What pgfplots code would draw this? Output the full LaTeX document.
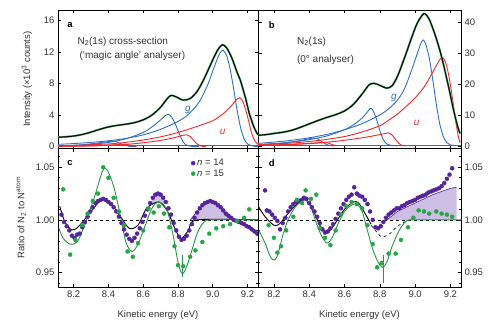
\documentclass[border=0pt]{standalone}
\usepackage{fontspec}
\setmainfont{Liberation Sans}
\usepackage{pgfplots}
\pgfplotsset{compat=1.18}
\definecolor{cblue}{RGB}{45,110,200}
\definecolor{cred}{RGB}{240,40,45}
\definecolor{cgreen}{RGB}{40,150,70}
\definecolor{tgreen}{RGB}{80,170,100}
\definecolor{cpurple}{RGB}{85,35,155}
\definecolor{clav}{RGB}{205,190,228}
\definecolor{dgreen}{RGB}{40,165,70}
\tikzset{ann/.style={font=\fontsize{10}{12}\selectfont, text=black!80}}
\pgfplotsset{
  panel/.style={
    scale only axis, xmin=8.11, xmax=9.26,
    xtick={8.2,8.4,8.6,8.8,9.0,9.2},
    tick align=inside,
    major tick length=3.5pt, minor tick length=2pt,
    every tick/.style={black, line width=0.6pt},
    axis line style={line width=0.8pt},
    tick label style={font=\fontsize{9.5}{11}\selectfont, text=black!80},
    label style={font=\fontsize{9.5}{11}\selectfont, text=black!80},
    /pgf/number format/assume math mode=true,
    xticklabel style={/pgf/number format/.cd, fixed, fixed zerofill, precision=1},
    clip=true,
  },
  ratio/.style={
    ymin=0.936, ymax=1.068,
    ytick={0.95,1.00,1.05},
    minor ytick={0.94,0.96,0.97,0.98,0.99,1.01,1.02,1.03,1.04,1.06},
    yticklabel style={/pgf/number format/.cd, fixed, fixed zerofill, precision=2},
    xlabel={Kinetic energy (eV)},
    xlabel style={at={(axis description cs:0.5,-0.2)}, anchor=center},
  },
  totg/.style={tgreen, line width=2.0pt, smooth},
  totk/.style={black, line width=1.0pt, smooth},
  bl/.style={cblue, line width=0.9pt, smooth},
  rd/.style={cred, line width=0.9pt, smooth},
  pdot/.style={only marks, mark=*, mark size=2pt, mark options={draw=cpurple, fill=cpurple}},
  gdot/.style={only marks, mark=*, mark size=2pt, mark options={draw=dgreen, fill=dgreen}},
}
\begin{document}
\begin{tikzpicture}[x=1pt,y=1pt]
\path[use as bounding box] (0,0) rectangle (493,324);

% ---------------- panel a ----------------
\begin{axis}[panel, at={(58pt,175.7pt)}, anchor=south west, width=200pt, height=138.3pt,
  ymin=-0.2, ymax=17.3, ytick={0,4,8,12,16}, xticklabels={},
  ylabel={Intensity (×10\textsuperscript{3} counts)},
  ylabel style={at={(axis description cs:-0.155,0.5)}, anchor=center}]
\addplot[cred, line width=1.2pt] coordinates {(8.11,0.13)(9.26,0.13)};
\addplot[bl] coordinates {(8.11,0.1)(8.25,0.25)(8.35,0.5)(8.42,0.7)(8.45,0.6)(8.48,0.3)(8.52,0.05)(8.56,0)};
\addplot[bl] coordinates {(8.11,0.1)(8.2,0.15)(8.3,0.3)(8.4,0.55)(8.5,1.0)(8.6,1.8)(8.65,2.5)(8.7,3.4)(8.73,4.0)(8.745,4.1)(8.765,3.7)(8.79,2.6)(8.81,1.5)(8.83,0.6)(8.85,0.2)(8.88,0.05)(8.92,0)};
\addplot[bl] coordinates {(8.11,0.3)(8.2,0.4)(8.3,0.55)(8.4,0.75)(8.5,1.05)(8.6,1.5)(8.7,2.2)(8.8,3.2)(8.86,4.1)(8.92,5.6)(8.97,7.8)(9.01,10.2)(9.04,11.8)(9.06,12.2)(9.08,11.5)(9.10,9.8)(9.12,7.3)(9.14,4.6)(9.16,2.4)(9.18,1.0)(9.20,0.35)(9.23,0.1)(9.26,0.0)};
\addplot[rd] coordinates {(8.11,0.05)(8.3,0.12)(8.42,0.22)(8.5,0.3)(8.53,0.15)(8.56,0.02)};
\addplot[rd] coordinates {(8.11,0.05)(8.3,0.1)(8.5,0.3)(8.6,0.5)(8.7,0.8)(8.78,1.15)(8.83,1.45)(8.85,1.5)(8.87,1.3)(8.89,0.8)(8.91,0.35)(8.93,0.1)(8.96,0)};
\addplot[rd] coordinates {(8.11,0.1)(8.2,0.15)(8.3,0.25)(8.4,0.35)(8.5,0.55)(8.6,0.85)(8.7,1.25)(8.8,1.8)(8.9,2.5)(9.0,3.3)(9.05,4.0)(9.1,5.0)(9.13,5.8)(9.155,6.2)(9.175,5.6)(9.2,3.8)(9.22,2.0)(9.24,0.8)(9.26,0.3)};
\addplot[totg] coordinates {(8.11,1.2)(8.15,1.25)(8.2,1.35)(8.25,1.55)(8.3,1.85)(8.35,2.2)(8.4,2.5)(8.45,2.7)(8.5,2.85)(8.55,3.05)(8.6,3.4)(8.65,4.0)(8.7,5.0)(8.735,6.0)(8.76,6.5)(8.79,6.3)(8.83,5.9)(8.87,6.1)(8.91,7.0)(8.95,8.6)(9.0,11.0)(9.03,12.3)(9.055,12.9)(9.08,12.5)(9.11,11.2)(9.14,9.4)(9.16,8.3)(9.19,6.0)(9.21,4.2)(9.24,2.3)(9.26,1.5)};
\addplot[totk] coordinates {(8.11,1.2)(8.15,1.25)(8.2,1.35)(8.25,1.55)(8.3,1.85)(8.35,2.2)(8.4,2.5)(8.45,2.7)(8.5,2.85)(8.55,3.05)(8.6,3.4)(8.65,4.0)(8.7,5.0)(8.735,6.0)(8.76,6.5)(8.79,6.3)(8.83,5.9)(8.87,6.1)(8.91,7.0)(8.95,8.6)(9.0,11.0)(9.03,12.3)(9.055,12.9)(9.08,12.5)(9.11,11.2)(9.14,9.4)(9.16,8.3)(9.19,6.0)(9.21,4.2)(9.24,2.3)(9.26,1.5)};
\node[ann, font=\bfseries\fontsize{9.5}{11}\selectfont, text=black] at (axis description cs:0.06,0.8915) {a};
\node[ann, anchor=west] at (axis description cs:0.08,0.771) {N\textsubscript{2}(1s) cross-section};
\node[ann, anchor=west] at (axis description cs:0.09,0.667) {(‘magic angle’ analyser)};
\node[ann, text=cblue, font=\itshape\fontsize{10}{12}\selectfont] at (axis description cs:0.65,0.277) {g};
\node[ann, text=cred, font=\itshape\fontsize{10}{12}\selectfont] at (axis description cs:0.8235,0.12) {u};
\end{axis}

% ---------------- panel b ----------------
\begin{axis}[panel, at={(258pt,175.7pt)}, anchor=south west, width=203pt, height=138.3pt,
  ymin=-0.8, ymax=44, ytick={0,10,20,30,40}, xticklabels={}, yticklabel pos=right]
\addplot[cred, line width=1.2pt] coordinates {(8.11,0.2)(9.26,0.2)};
\addplot[bl] coordinates {(8.11,0.3)(8.25,0.9)(8.35,1.7)(8.42,2.5)(8.45,2.2)(8.48,1.0)(8.51,0.2)(8.54,0)};
\addplot[bl] coordinates {(8.11,0.4)(8.2,0.7)(8.3,1.2)(8.4,2.0)(8.5,3.2)(8.6,5.2)(8.65,6.8)(8.7,9.0)(8.73,11.0)(8.745,12.1)(8.76,11.6)(8.78,8.8)(8.80,5.0)(8.82,2.0)(8.84,0.6)(8.87,0.1)(8.9,0)};
\addplot[bl] coordinates {(8.11,0.8)(8.2,1.2)(8.3,1.8)(8.4,2.6)(8.5,3.7)(8.6,5.2)(8.7,7.2)(8.8,10.0)(8.85,12.0)(8.9,14.8)(8.94,18.5)(8.98,24.5)(9.01,29.5)(9.03,32.8)(9.045,34.3)(9.06,33.0)(9.08,28.5)(9.10,21.5)(9.12,13.5)(9.14,7.0)(9.16,3.0)(9.18,1.0)(9.20,0.3)(9.23,0.05)};
\addplot[rd] coordinates {(8.11,0.1)(8.3,0.4)(8.45,0.9)(8.5,1.0)(8.53,0.4)(8.56,0)};
\addplot[rd] coordinates {(8.11,0.2)(8.3,0.5)(8.5,1.2)(8.6,1.8)(8.7,2.6)(8.78,3.4)(8.83,4.0)(8.848,4.2)(8.87,3.5)(8.89,2.0)(8.91,0.7)(8.925,0.1)(8.95,0)};
\addplot[rd] coordinates {(8.11,0.4)(8.2,0.6)(8.3,0.9)(8.4,1.4)(8.5,2.1)(8.6,3.0)(8.7,4.5)(8.8,6.5)(8.85,8.3)(8.9,10.3)(8.95,12.8)(9.0,15.5)(9.05,19.0)(9.09,22.8)(9.12,26.0)(9.15,28.6)(9.17,27.5)(9.19,23.0)(9.21,16.0)(9.23,8.0)(9.245,3.0)(9.255,1.0)};
\addplot[totg] coordinates {(8.11,3.4)(8.15,3.6)(8.2,4.0)(8.25,4.4)(8.3,5.0)(8.35,6.0)(8.4,7.1)(8.45,8.2)(8.5,9.2)(8.55,10.1)(8.6,11.3)(8.65,13.4)(8.7,16.8)(8.74,19.8)(8.77,20.2)(8.8,19.6)(8.84,18.7)(8.87,19.5)(8.9,22.5)(8.94,28.5)(8.98,35.0)(9.01,39.5)(9.04,42.3)(9.056,42.8)(9.08,41.0)(9.11,36.5)(9.14,31.0)(9.16,26.5)(9.19,19.0)(9.217,11.8)(9.24,6.5)(9.255,4.0)};
\addplot[totk] coordinates {(8.11,3.4)(8.15,3.6)(8.2,4.0)(8.25,4.4)(8.3,5.0)(8.35,6.0)(8.4,7.1)(8.45,8.2)(8.5,9.2)(8.55,10.1)(8.6,11.3)(8.65,13.4)(8.7,16.8)(8.74,19.8)(8.77,20.2)(8.8,19.6)(8.84,18.7)(8.87,19.5)(8.9,22.5)(8.94,28.5)(8.98,35.0)(9.01,39.5)(9.04,42.3)(9.056,42.8)(9.08,41.0)(9.11,36.5)(9.14,31.0)(9.16,26.5)(9.19,19.0)(9.217,11.8)(9.24,6.5)(9.255,4.0)};
\node[ann, font=\bfseries\fontsize{9.5}{11}\selectfont, text=black] at (axis description cs:0.0675,0.8915) {b};
\node[ann, anchor=west] at (axis description cs:0.175,0.771) {N\textsubscript{2}(1s)};
\node[ann, anchor=west] at (axis description cs:0.175,0.638) {(0° analyser)};
\node[ann, text=cblue, font=\itshape\fontsize{10}{12}\selectfont] at (axis description cs:0.67,0.3615) {g};
\node[ann, text=cred, font=\itshape\fontsize{10}{12}\selectfont] at (axis description cs:0.782,0.185) {u};
\end{axis}

% ---------------- panel c ----------------
\begin{axis}[panel, ratio, at={(58pt,36.7pt)}, anchor=south west, width=200pt, height=139pt,
  ylabel={Ratio of N\textsubscript{2} to N\textsuperscript{atom}},
  ylabel style={at={(axis description cs:-0.185,0.5)}, anchor=center},
  legend style={at={(axis description cs:0.66,0.945)}, anchor=north west, draw=none, fill=none,
    font=\fontsize{9.5}{11}\selectfont, text=black!80, inner sep=1pt, row sep=-1.5pt},
  legend cell align=left]
\addplot[fill=clav, draw=none, forget plot] coordinates {(8.87,1.0)(8.9,1.006)(8.93,1.012)(8.96,1.016)(9.0,1.017)(9.03,1.014)(9.06,1.009)(9.09,1.004)(9.12,1.0)(8.87,1.0)};
\addplot[fill=clav, draw=none, forget plot] coordinates {(8.64,1.015)(8.66,1.022)(8.69,1.026)(8.72,1.021)(8.72,1.012)(8.69,1.017)(8.66,1.016)(8.64,1.015)};
\addplot[fill=clav, draw=none, forget plot] coordinates {(8.34,1.017)(8.37,1.021)(8.40,1.018)(8.40,1.017)(8.37,1.0185)(8.34,1.017)};
\addplot[cpurple, line width=0.6pt, smooth, forget plot] coordinates {(8.87,1.0)(8.9,1.006)(8.93,1.012)(8.96,1.016)(9.0,1.017)(9.03,1.014)(9.06,1.009)(9.09,1.004)(9.12,1.0)};
\addplot[black, dashed, line width=0.8pt, forget plot] coordinates {(8.11,1.0)(9.26,1.0)};
\addplot[black, line width=0.9pt, smooth, forget plot] coordinates {(8.12,1.013)(8.15,0.998)(8.19,0.9905)(8.23,0.994)(8.30,1.008)(8.36,1.019)(8.41,1.016)(8.47,1.003)(8.52,0.992)(8.57,0.995)(8.62,1.011)(8.69,1.017)(8.74,1.008)(8.79,0.989)(8.82,0.9825)(8.86,0.990)(8.91,1.0)(9.26,1.0)};
\addplot[cgreen, line width=0.9pt, smooth, forget plot] coordinates {(8.115,0.992)(8.14,0.9825)(8.18,0.977)(8.22,0.979)(8.26,0.9937)(8.32,1.022)(8.365,1.046)(8.39,1.048)(8.43,1.032)(8.47,1.003)(8.5,0.979)(8.535,0.970)(8.57,0.977)(8.61,0.994)(8.65,1.011)(8.69,1.017)(8.735,1.010)(8.77,0.987)(8.80,0.960)(8.825,0.949)(8.855,0.958)(8.91,0.987)(8.95,0.998)(9.0,1.0)(9.26,1.0)};
\addplot[cgreen, line width=0.9pt, forget plot] coordinates {(8.823,0.967)(8.823,0.946)};
\addplot[pdot] coordinates {(8.13,1.005)(8.145,0.998)(8.16,0.994)(8.175,0.990)(8.19,0.985)(8.205,0.983)(8.22,0.986)(8.235,0.987)(8.25,0.993)(8.265,0.998)(8.28,1.003)(8.295,1.008)(8.31,1.012)(8.325,1.016)(8.34,1.018)(8.355,1.019)(8.37,1.020)(8.385,1.019)(8.40,1.017)(8.415,1.015)(8.43,1.012)(8.445,1.008)(8.46,1.003)(8.475,0.997)(8.49,0.991)(8.505,0.986)(8.52,0.982)(8.535,0.980)(8.55,0.983)(8.565,0.987)(8.58,0.992)(8.595,0.998)(8.61,1.004)(8.625,1.010)(8.64,1.016)(8.655,1.021)(8.67,1.024)(8.685,1.025)(8.70,1.024)(8.715,1.021)(8.73,1.017)(8.745,1.011)(8.76,1.005)(8.775,0.997)(8.79,0.990)(8.805,0.984)(8.82,0.981)(8.835,0.982)(8.85,0.985)(8.865,0.990)(8.88,0.996)(8.895,1.002)(8.91,1.007)(8.925,1.011)(8.94,1.014)(8.955,1.016)(8.97,1.017)(8.985,1.018)(9.00,1.017)(9.015,1.016)(9.03,1.014)(9.045,1.012)(9.06,1.009)(9.075,1.006)(9.09,1.004)(9.105,1.002)(9.12,1.000)(9.135,0.999)(9.15,0.998)(9.165,0.997)(9.18,0.996)(9.195,0.994)(9.21,0.993)(9.225,0.991)(9.24,0.989)(9.255,0.987)};
\addlegendentry{\textit{n} = 14}
\addplot[gdot] coordinates {(8.14,1.029)(8.18,0.967)(8.21,0.981)(8.25,0.995)(8.28,1.006)(8.31,1.018)(8.34,1.025)(8.37,1.050)(8.40,1.040)(8.43,1.021)(8.46,1.008)(8.49,0.995)(8.51,0.970)(8.54,0.965)(8.57,0.978)(8.60,0.990)(8.63,1.011)(8.66,1.007)(8.69,1.013)(8.72,1.006)(8.75,0.993)(8.78,0.975)(8.80,0.957)(8.83,0.956)(8.87,0.965)(8.90,0.971)(8.94,0.979)(8.98,0.987)(9.02,0.992)(9.06,0.994)(9.10,0.996)(9.14,0.999)(9.18,1.002)(9.21,1.010)};
\addlegendentry{\textit{n} = 15}
\node[ann, font=\bfseries\fontsize{9.5}{11}\selectfont, text=black] at (axis description cs:0.06,0.892) {c};
\end{axis}

% ---------------- panel d ----------------
\begin{axis}[panel, ratio, at={(258pt,36.7pt)}, anchor=south west, width=203pt, height=139pt,
  yticklabel pos=right]
\addplot[fill=clav, draw=none] coordinates {(8.84,1.0)(8.9,1.008)(9.0,1.016)(9.1,1.024)(9.2,1.030)(9.235,1.031)(9.235,1.0)(8.84,1.0)};
\addplot[cpurple, line width=0.6pt] coordinates {(8.84,1.0)(8.9,1.008)(9.0,1.016)(9.1,1.024)(9.2,1.030)(9.235,1.031)};
\addplot[black, dashed, line width=0.8pt] coordinates {(8.11,1.0)(9.26,1.0)};
\addplot[black, line width=0.9pt, smooth] coordinates {(8.115,1.012)(8.15,1.003)(8.2,0.995)(8.23,0.996)(8.27,1.004)(8.33,1.015)(8.38,1.019)(8.42,1.01)(8.46,0.995)(8.5,0.988)(8.54,0.995)(8.6,1.01)(8.65,1.017)(8.68,1.016)(8.72,1.005)(8.75,0.996)};
\addplot[black!80, dashed, line width=0.8pt, smooth] coordinates {(8.75,0.995)(8.78,0.989)(8.81,0.984)(8.85,0.986)(8.9,0.994)(8.94,0.998)(8.98,1.0)};
\addplot[cgreen, line width=0.9pt, smooth] coordinates {(8.115,0.990)(8.15,0.978)(8.18,0.965)(8.2,0.962)(8.22,0.966)(8.25,0.985)(8.28,1.0)(8.32,1.012)(8.36,1.018)(8.38,1.019)(8.41,1.012)(8.44,0.997)(8.47,0.985)(8.5,0.978)(8.53,0.983)(8.56,0.995)(8.6,1.008)(8.64,1.014)(8.67,1.015)(8.7,1.008)(8.73,0.99)(8.76,0.972)(8.79,0.96)(8.815,0.955)(8.84,0.96)(8.87,0.975)(8.91,0.99)(8.95,0.999)(9.0,1.0)(9.26,1.0)};
\addplot[cgreen, line width=0.9pt] coordinates {(8.82,0.967)(8.82,0.940)};
\addplot[pdot] coordinates {(8.15,1.028)(8.16,1.009)(8.175,1.008)(8.19,1.005)(8.205,1.002)(8.22,0.999)(8.235,0.991)(8.25,0.997)(8.265,1.002)(8.28,1.008)(8.295,1.012)(8.31,1.015)(8.325,1.017)(8.34,1.018)(8.355,1.019)(8.37,1.021)(8.385,1.020)(8.40,1.016)(8.415,1.012)(8.43,1.008)(8.445,1.003)(8.46,0.997)(8.475,0.991)(8.49,0.988)(8.505,0.989)(8.52,0.992)(8.535,0.996)(8.55,1.001)(8.565,1.006)(8.58,1.011)(8.595,1.015)(8.61,1.019)(8.625,1.022)(8.64,1.024)(8.655,1.031)(8.67,1.025)(8.685,1.023)(8.70,1.022)(8.715,1.019)(8.73,1.015)(8.745,1.008)(8.76,1.000)(8.775,0.993)(8.79,0.992)(8.805,0.994)(8.82,0.998)(8.835,1.002)(8.85,1.005)(8.865,1.007)(8.88,1.009)(8.895,1.011)(8.91,1.011)(8.925,1.013)(8.94,1.014)(8.955,1.016)(8.97,1.017)(8.985,1.018)(9.00,1.019)(9.015,1.021)(9.03,1.022)(9.045,1.023)(9.06,1.024)(9.075,1.026)(9.09,1.027)(9.105,1.028)(9.12,1.029)(9.135,1.030)(9.15,1.032)(9.165,1.035)(9.18,1.039)(9.195,1.043)(9.21,1.049)};
\addplot[gdot] coordinates {(8.17,0.995)(8.20,0.983)(8.22,0.969)(8.24,0.975)(8.27,0.990)(8.31,1.003)(8.33,1.019)(8.36,1.016)(8.38,1.028)(8.41,1.020)(8.44,1.024)(8.46,0.992)(8.49,0.983)(8.52,0.976)(8.55,0.990)(8.58,1.005)(8.61,1.013)(8.64,1.017)(8.67,1.015)(8.70,1.011)(8.73,0.995)(8.76,0.977)(8.785,0.955)(8.81,0.959)(8.85,0.968)(8.89,0.968)(8.92,0.981)(8.96,0.993)(8.99,1.002)(9.02,1.009)(9.05,1.008)(9.08,1.006)(9.12,1.008)(9.15,1.006)(9.18,1.005)(9.21,1.003)};
\node[ann, font=\bfseries\fontsize{9.5}{11}\selectfont, text=black] at (axis description cs:0.0675,0.892) {d};
\end{axis}
\end{tikzpicture}
\end{document}
